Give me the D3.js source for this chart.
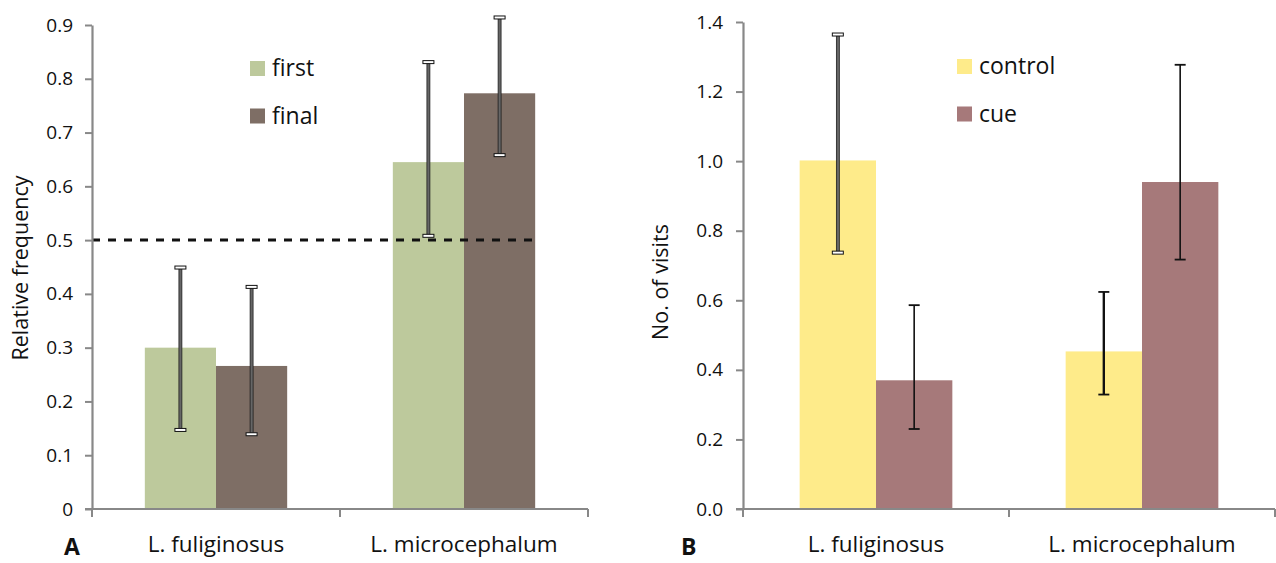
<!DOCTYPE html>
<html>
<head>
<meta charset="utf-8">
<script src="https://cdn.jsdelivr.net/npm/d3@7"></script>
<style>
  body { margin: 0; background: #fff; }
  svg { display: block; font-family: "Open Sans", sans-serif; }
</style>
</head>
<body>
<div class="chart"></div>
<script>
var w = 1276;
var h = 563;

// species on the x axis (same for both panels)
var species = ["L. fuliginosus", "L. microcephalum"];

// panel A
var seriesA = ["first", "final"];
var valuesA = [[0.300, 0.266], [0.645, 0.773]];   // [species][series]
var lowA = [[0.147, 0.139], [0.508, 0.658]];
var highA = [[0.449, 0.413], [0.831, 0.914]];
var ticksA = [0, 0.1, 0.2, 0.3, 0.4, 0.5, 0.6, 0.7, 0.8, 0.9];
var chanceLevel = 0.5;

// panel B
var seriesB = ["control", "cue"];
var valuesB = [[1.002, 0.370], [0.453, 0.940]];
var lowB = [[0.737, 0.230], [0.329, 0.717]];
var highB = [[1.364, 0.586], [0.624, 1.277]];
var ticksB = [0, 0.2, 0.4, 0.6, 0.8, 1.0, 1.2, 1.4];

var svg = d3.select(".chart")
  .append("svg")
  .attr("width", w)
  .attr("height", h);

function drawPanel(p) {
  var g = svg.append("g");

  var y = d3.scaleLinear()
    .domain([0, p.ymax])
    .range([509, p.ytop]);

  var x0 = d3.scaleBand()
    .domain(species)
    .range([p.left, p.right]);

  var bw = x0.bandwidth();
  var x1 = d3.scaleBand()
    .domain(p.series)
    .range([bw * 0.213, bw * 0.787]);

  var color = d3.scaleOrdinal()
    .domain(p.series)
    .range(p.colors);

  // bars
  species.forEach(function (sp, i) {
    p.series.forEach(function (s, j) {
      var v = p.values[i][j];
      g.append("rect")
        .attr("x", x0(sp) + x1(s))
        .attr("y", y(v))
        .attr("width", x1.bandwidth())
        .attr("height", y(0) - y(v))
        .attr("fill", color(s));
    });
  });

  // chance line (panel A only)
  if (p.chance != null) {
    g.append("line")
      .attr("x1", p.left)
      .attr("x2", p.left + 448)
      .attr("y1", y(p.chance))
      .attr("y2", y(p.chance))
      .attr("stroke", "#111")
      .attr("stroke-width", 3)
      .attr("stroke-dasharray", "8,8");
  }

  // error bars
  species.forEach(function (sp, i) {
    p.series.forEach(function (s, j) {
      var cx = x0(sp) + x1(s) + x1.bandwidth() / 2;
      var lo = y(p.low[i][j]), hi = y(p.high[i][j]);
      var style = p.errStyle[i][j];
      if (style === "hollow") {
        g.append("rect")
          .attr("x", cx - 1.5).attr("y", hi)
          .attr("width", 3).attr("height", lo - hi)
          .attr("fill", "#666").attr("stroke", "#111").attr("stroke-width", 0.7);
        [hi, lo].forEach(function (yy) {
          g.append("rect")
            .attr("x", cx - 5.5).attr("y", yy - 1.5)
            .attr("width", 11).attr("height", 3)
            .attr("fill", "#fff").attr("stroke", "#111").attr("stroke-width", 1);
        });
      } else {
        var sw = style === "thick" ? 2.4 : 1.6;
        g.append("line")
          .attr("x1", cx).attr("x2", cx).attr("y1", hi).attr("y2", lo)
          .attr("stroke", "#111").attr("stroke-width", sw);
        [hi, lo].forEach(function (yy) {
          g.append("line")
            .attr("x1", cx - 5.5).attr("x2", cx + 5.5).attr("y1", yy).attr("y2", yy)
            .attr("stroke", "#111").attr("stroke-width", 1.8);
        });
      }
    });
  });

  // y axis
  var yAxis = d3.axisLeft(y)
    .tickValues(p.ticks)
    .tickFormat(p.fmt)
    .tickSize(7)
    .tickSizeOuter(0)
    .tickPadding(p.pad);

  var ya = g.append("g")
    .attr("transform", "translate(" + p.left + ",0)")
    .call(yAxis);
  ya.select(".domain").attr("stroke", "#888").attr("stroke-width", 2.2);
  ya.selectAll(".tick line").attr("stroke", "#888").attr("stroke-width", 2);
  ya.selectAll(".tick text")
    .attr("fill", "#111")
    .style("font-size", "19px")
    .style("font-family", "Open Sans");

  // x axis: line plus ticks at band boundaries
  g.append("line")
    .attr("x1", p.left - 7).attr("x2", p.right)
    .attr("y1", y(0)).attr("y2", y(0))
    .attr("stroke", "#888").attr("stroke-width", 2.2);
  [p.left, x0(species[1]), p.right].forEach(function (tx) {
    g.append("line")
      .attr("x1", tx).attr("x2", tx)
      .attr("y1", y(0)).attr("y2", y(0) + 8)
      .attr("stroke", "#888").attr("stroke-width", 2);
  });

  g.selectAll(".xlab")
    .data(species)
    .enter()
    .append("text")
    .attr("class", "xlab")
    .attr("x", function (d) { return x0(d) + bw / 2; })
    .attr("y", 552)
    .attr("text-anchor", "middle")
    .attr("fill", "#111")
    .style("font-size", "22.5px")
    .text(function (d) { return d; });

  // y title
  g.append("text")
    .attr("transform", "translate(" + p.titleX + "," + p.titleY + ") rotate(-90)")
    .attr("text-anchor", "middle")
    .attr("fill", "#111")
    .style("font-size", "21.5px")
    .text(p.title);

  // panel letter
  g.append("text")
    .attr("x", p.letterX)
    .attr("y", 555)
    .attr("fill", "#111")
    .style("font-size", "23px")
    .style("font-weight", "bold")
    .text(p.letter);

  // legend
  var leg = g.selectAll(".leg")
    .data(p.series)
    .enter()
    .append("g")
    .attr("transform", function (d, i) {
      return "translate(" + p.legX + "," + (p.legY + i * 47.5) + ")";
    });
  leg.append("rect")
    .attr("width", 15).attr("height", 15)
    .attr("fill", function (d) { return color(d); });
  leg.append("text")
    .attr("x", 22)
    .attr("y", 15)
    .attr("fill", "#111")
    .style("font-size", "23px")
    .text(function (d) { return d; });
}

drawPanel({
  left: 92, right: 588, ytop: 25, ymax: 0.9,
  series: seriesA, values: valuesA, low: lowA, high: highA,
  colors: ["#bdc99c", "#7e6e65"],
  ticks: ticksA,
  fmt: function (d) { return d === 0 ? "0" : d3.format(".1f")(d); },
  pad: 12,
  chance: chanceLevel,
  errStyle: [["hollow", "hollow"], ["hollow", "hollow"]],
  title: "Relative frequency", titleX: 28, titleY: 268,
  letter: "A", letterX: 64,
  legX: 250, legY: 61
});

drawPanel({
  left: 743, right: 1275, ytop: 22, ymax: 1.4,
  series: seriesB, values: valuesB, low: lowB, high: highB,
  colors: ["#feeb8a", "#a6797a"],
  ticks: ticksB,
  fmt: d3.format(".1f"),
  pad: 13,
  chance: null,
  errStyle: [["hollow", "plain"], ["thick", "plain"]],
  title: "No. of visits", titleX: 668, titleY: 282,
  letter: "B", letterX: 681,
  legX: 957, legY: 59
});
</script>
</body>
</html>
